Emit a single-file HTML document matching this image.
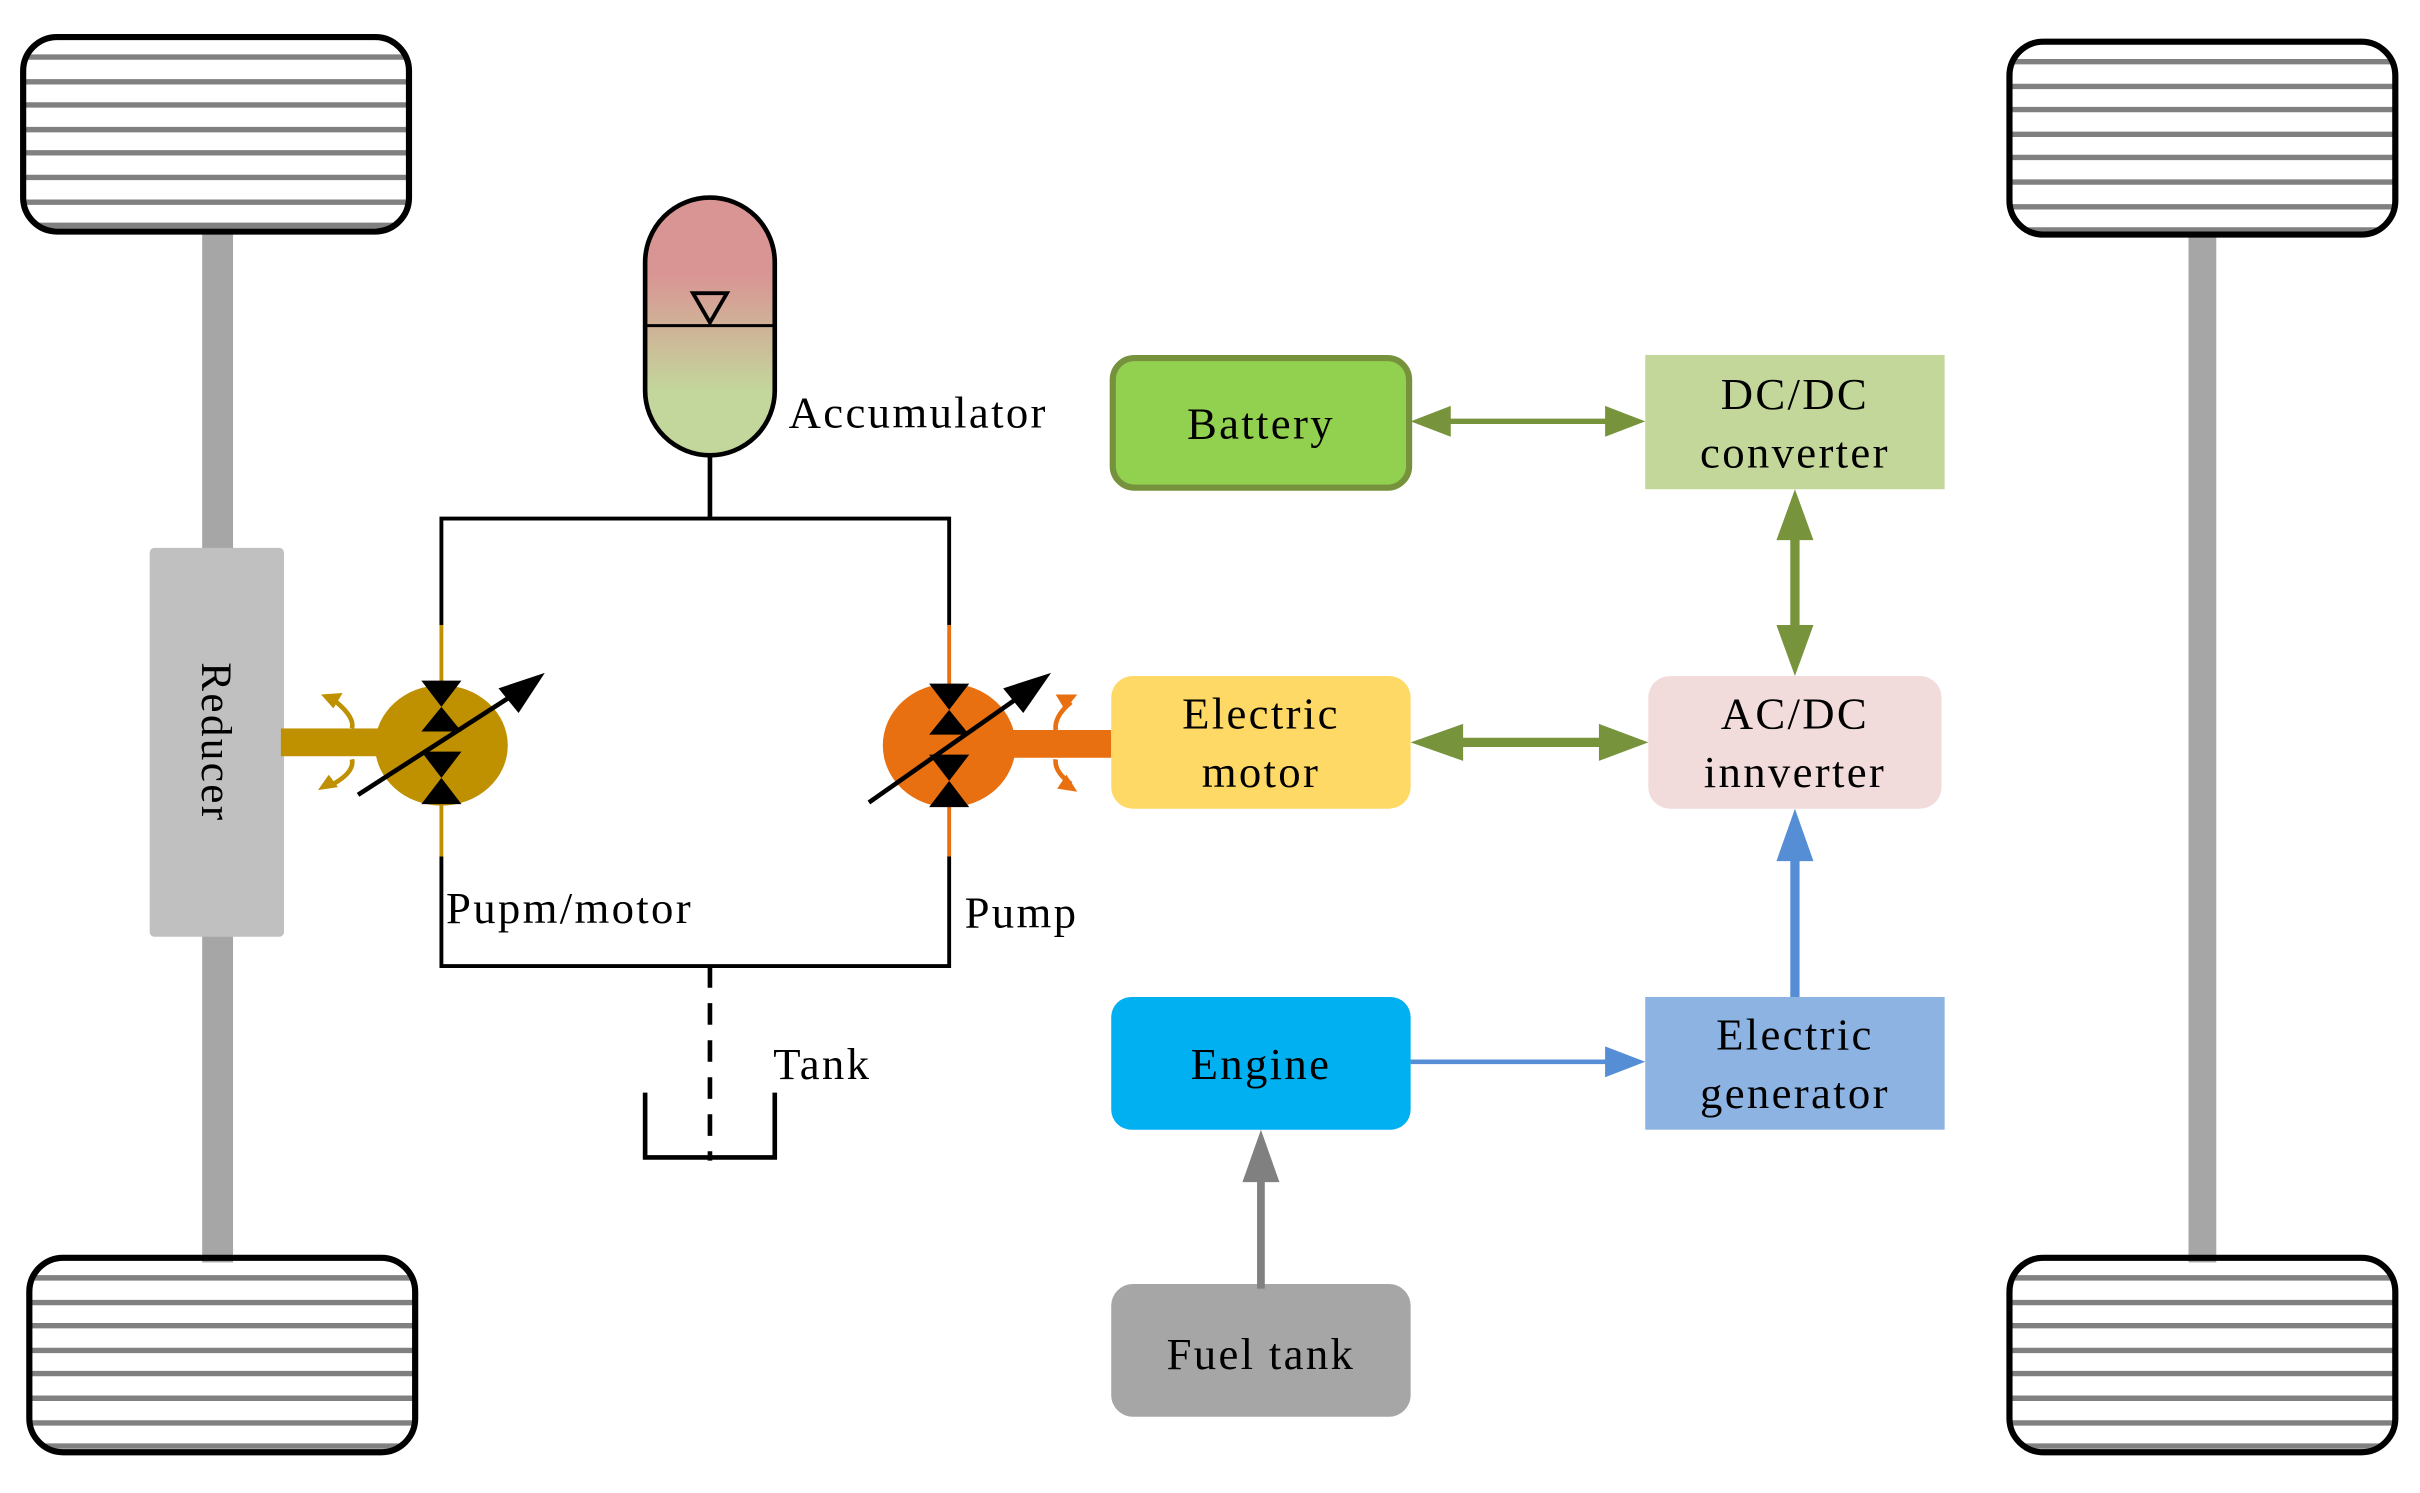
<!DOCTYPE html>
<html><head><meta charset="utf-8"><style>
html,body{margin:0;padding:0;background:#fff;}
svg{display:block;}
text{font-family:"Liberation Serif",serif;fill:#000;letter-spacing:1.5px;}
</style></head><body>
<svg width="2420" height="1493" viewBox="0 0 1568 967.4" preserveAspectRatio="none" xmlns="http://www.w3.org/2000/svg">
<defs>
<linearGradient id="acc" x1="0" y1="0" x2="0" y2="1">
<stop offset="0" stop-color="#d99594"/><stop offset="0.3" stop-color="#d99594"/><stop offset="0.75" stop-color="#c3d69b"/><stop offset="1" stop-color="#c3d69b"/>
</linearGradient>
<clipPath id="w1"><rect x="15" y="24" width="250" height="126" rx="22"/></clipPath>
<clipPath id="w2"><rect x="1302" y="27" width="250" height="125" rx="22"/></clipPath>
<clipPath id="w3"><rect x="19" y="815" width="250" height="126" rx="22"/></clipPath>
<clipPath id="w4"><rect x="1302" y="815" width="250" height="126" rx="22"/></clipPath>
</defs>

<rect x="131" y="148" width="20" height="670" fill="#a6a6a6"/>
<rect x="1418" y="150" width="18" height="668" fill="#a6a6a6"/>

<g stroke="#808080" stroke-width="3.5">
<g clip-path="url(#w1)"><line x1="0" x2="300" y1="37" y2="37"/><line x1="0" x2="300" y1="53" y2="53"/><line x1="0" x2="300" y1="68" y2="68"/><line x1="0" x2="300" y1="84" y2="84"/><line x1="0" x2="300" y1="99" y2="99"/><line x1="0" x2="300" y1="115" y2="115"/><line x1="0" x2="300" y1="131" y2="131"/><line x1="0" x2="300" y1="146" y2="146"/></g>
<g clip-path="url(#w2)"><line x1="1290" x2="1570" y1="40" y2="40"/><line x1="1290" x2="1570" y1="56" y2="56"/><line x1="1290" x2="1570" y1="71" y2="71"/><line x1="1290" x2="1570" y1="87" y2="87"/><line x1="1290" x2="1570" y1="102" y2="102"/><line x1="1290" x2="1570" y1="118" y2="118"/><line x1="1290" x2="1570" y1="134" y2="134"/><line x1="1290" x2="1570" y1="149" y2="149"/></g>
<g clip-path="url(#w3)"><line x1="0" x2="300" y1="828" y2="828"/><line x1="0" x2="300" y1="844" y2="844"/><line x1="0" x2="300" y1="859" y2="859"/><line x1="0" x2="300" y1="875" y2="875"/><line x1="0" x2="300" y1="890" y2="890"/><line x1="0" x2="300" y1="906" y2="906"/><line x1="0" x2="300" y1="922" y2="922"/><line x1="0" x2="300" y1="937" y2="937"/></g>
<g clip-path="url(#w4)"><line x1="1290" x2="1570" y1="828" y2="828"/><line x1="1290" x2="1570" y1="844" y2="844"/><line x1="1290" x2="1570" y1="859" y2="859"/><line x1="1290" x2="1570" y1="875" y2="875"/><line x1="1290" x2="1570" y1="890" y2="890"/><line x1="1290" x2="1570" y1="906" y2="906"/><line x1="1290" x2="1570" y1="922" y2="922"/><line x1="1290" x2="1570" y1="937" y2="937"/></g>
</g>
<g fill="none" stroke="#000" stroke-width="4">
<rect x="15" y="24" width="250" height="126" rx="22"/>
<rect x="1302" y="27" width="250" height="125" rx="22"/>
<rect x="19" y="815" width="250" height="126" rx="22"/>
<rect x="1302" y="815" width="250" height="126" rx="22"/>
</g>

<rect x="97" y="355" width="87" height="252" rx="3" fill="#c0c0c0"/>
<text x="0" y="0" font-size="28" text-anchor="middle" transform="translate(131,481) rotate(90)">Reducer</text>

<g stroke="#000" stroke-width="2.5" fill="none">
<polyline points="286,405 286,336 615,336 615,405"/>
<polyline points="286,555 286,626 615,626 615,555"/>
<line x1="460" y1="295" x2="460" y2="336" stroke-width="3"/>
<line x1="460" y1="626" x2="460" y2="752" stroke-width="3" stroke-dasharray="14,10"/>
<polyline points="418,708 418,750 502,750 502,708" stroke-width="3"/>
</g>
<path d="M418,170 A42,42 0 0 1 502,170 L502,253 A42,42 0 0 1 418,253 Z" fill="url(#acc)" stroke="#000" stroke-width="3"/>
<line x1="418" y1="211" x2="502" y2="211" stroke="#000" stroke-width="2"/>
<polygon points="449,190 471,190 460,209" fill="none" stroke="#000" stroke-width="2.5"/>

<line x1="286" y1="405" x2="286" y2="555" stroke="#bf9000" stroke-width="2.5"/>
<rect x="182" y="472" width="65" height="18" fill="#bf9000"/>
<ellipse cx="286" cy="483" rx="43" ry="39" fill="#bf9000"/>
<g fill="#000">
<polygon points="273,441 299,441 286,458"/><polygon points="273,474 299,474 286,458"/>
<polygon points="273,487 299,487 286,504"/><polygon points="273,521 299,521 286,504"/>
</g>
<line x1="232" y1="515" x2="336" y2="448" stroke="#000" stroke-width="3"/>
<polygon points="353,436 323,446 336,462" fill="#000"/>
<g stroke="#bf9000" stroke-width="3" fill="none">
<path d="M218,455 Q230,465 228,472"/><path d="M228,492 Q230,500 216,508"/>
</g>
<g fill="#bf9000"><polygon points="208,450 222,449 216,459"/><polygon points="206,512 219,510 213,502"/></g>

<line x1="615" y1="405" x2="615" y2="555" stroke="#e97010" stroke-width="2.5"/>
<rect x="652" y="473" width="68" height="18" fill="#e97010"/>
<ellipse cx="615" cy="483" rx="43" ry="40" fill="#e97010"/>
<g fill="#000">
<polygon points="602,443 628,443 615,460"/><polygon points="602,476 628,476 615,460"/>
<polygon points="602,489 628,489 615,506"/><polygon points="602,523 628,523 615,506"/>
</g>
<line x1="563" y1="520" x2="664" y2="449" stroke="#000" stroke-width="3"/>
<polygon points="681,436 650,446 663,462" fill="#000"/>
<g stroke="#e97010" stroke-width="3" fill="none">
<path d="M694,455 Q683,464 684,473"/><path d="M684,492 Q683,500 694,508"/>
</g>
<g fill="#e97010"><polygon points="698,450 684,450 690,460"/><polygon points="698,513 685,511 691,502"/></g>

<text x="511" y="277" font-size="29">Accumulator</text>
<text x="289" y="598" font-size="29">Pupm/motor</text>
<text x="625" y="601" font-size="29">Pump</text>
<text x="501" y="699" font-size="29">Tank</text>

<rect x="721" y="232" width="192" height="84" rx="14" fill="#92d050" stroke="#76923c" stroke-width="4"/>
<text x="817" y="284" font-size="29" text-anchor="middle">Battery</text>
<rect x="1066" y="230" width="194" height="87" fill="#c4d79b"/>
<text x="1163" y="265" font-size="29" text-anchor="middle">DC/DC</text>
<text x="1163" y="303" font-size="29" text-anchor="middle">converter</text>
<rect x="720" y="438" width="194" height="86" rx="14" fill="#ffd966"/>
<text x="817" y="472" font-size="29" text-anchor="middle">Electric</text>
<text x="817" y="510" font-size="29" text-anchor="middle">motor</text>
<rect x="1068" y="438" width="190" height="86" rx="14" fill="#f2dcdb"/>
<text x="1163" y="472" font-size="29" text-anchor="middle">AC/DC</text>
<text x="1163" y="510" font-size="29" text-anchor="middle">innverter</text>
<rect x="720" y="646" width="194" height="86" rx="13" fill="#00b0f0"/>
<text x="817" y="699" font-size="29" text-anchor="middle">Engine</text>
<rect x="1066" y="646" width="194" height="86" fill="#8db3e2"/>
<text x="1163" y="680" font-size="29" text-anchor="middle">Electric</text>
<text x="1163" y="718" font-size="29" text-anchor="middle">generator</text>
<rect x="720" y="832" width="194" height="86" rx="14" fill="#a6a6a6"/>
<text x="817" y="887" font-size="29" text-anchor="middle">Fuel tank</text>

<line x1="935" y1="273" x2="1044" y2="273" stroke="#77933c" stroke-width="3.5"/>
<polygon points="914,273 940,263 940,283" fill="#77933c"/>
<polygon points="1066,273 1040,263 1040,283" fill="#77933c"/>
<line x1="1163" y1="345" x2="1163" y2="410" stroke="#77933c" stroke-width="6"/>
<polygon points="1163,317 1151,350 1175,350" fill="#77933c"/>
<polygon points="1163,438 1151,405 1175,405" fill="#77933c"/>
<line x1="945" y1="481" x2="1040" y2="481" stroke="#77933c" stroke-width="6"/>
<polygon points="914,481 948,469 948,493" fill="#77933c"/>
<polygon points="1068,481 1036,469 1036,493" fill="#77933c"/>
<line x1="914" y1="688" x2="1045" y2="688" stroke="#558ed5" stroke-width="3"/>
<polygon points="1066,688 1040,678 1040,698" fill="#558ed5"/>
<line x1="1163" y1="646" x2="1163" y2="555" stroke="#558ed5" stroke-width="6"/>
<polygon points="1163,524 1151,558 1175,558" fill="#558ed5"/>
<line x1="817" y1="835" x2="817" y2="762" stroke="#808080" stroke-width="5"/>
<polygon points="817,732 805,766 829,766" fill="#808080"/>
</svg>
</body></html>
